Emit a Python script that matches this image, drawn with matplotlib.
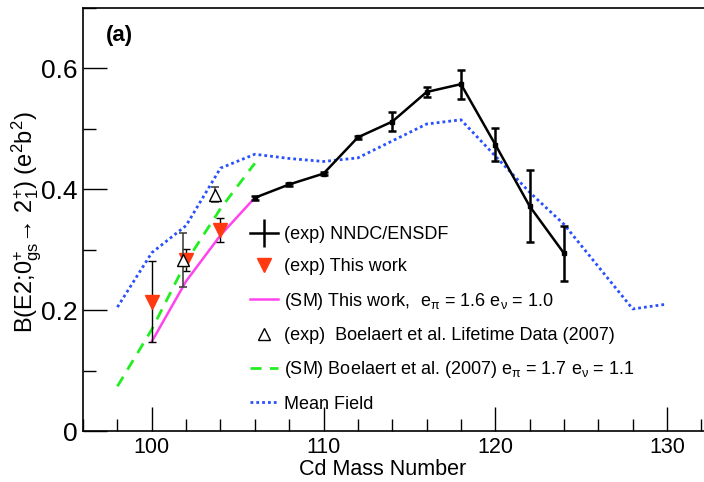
import matplotlib
matplotlib.use('Agg')
import matplotlib.pyplot as plt
from matplotlib.lines import Line2D
from matplotlib.ticker import MultipleLocator

plt.rcParams['font.family'] = ['Liberation Sans', 'DejaVu Sans']
plt.rcParams['mathtext.fontset'] = 'custom'
plt.rcParams['mathtext.rm'] = 'Liberation Sans'
plt.rcParams['mathtext.it'] = 'Liberation Sans:italic'
plt.rcParams['mathtext.bf'] = 'Liberation Sans:bold'

# NNDC/ENSDF adopted values
nndc_A = [106, 108, 110, 112, 114, 116, 118, 120, 122, 124]
nndc_B = [0.386, 0.408, 0.426, 0.486, 0.512, 0.561, 0.574, 0.474, 0.372, 0.294]
nndc_err = [0.003, 0.003, 0.003, 0.003, 0.016, 0.009, 0.024, 0.027, 0.060, 0.045]

# this work (exp)
tw_A = [100, 102, 104]
tw_B = [0.214, 0.283, 0.333]
tw_err = [0.067, 0.019, 0.020]

# Boelaert et al. lifetime data
bo_A = [101.8, 103.7]
bo_B = [0.283, 0.391]
bo_err = [0.044, 0.012]

# shell model, this work
sm_A = [100, 102, 104, 106]
sm_B = [0.148, 0.248, 0.324, 0.386]

# shell model, Boelaert et al.
smb_A = [98, 100, 102, 104, 106]
smb_B = [0.074, 0.168, 0.280, 0.368, 0.443]

# mean field
mf_A = [98, 100, 102, 104, 106, 108, 110, 112, 114, 116, 118, 120, 122, 124, 128, 130]
mf_B = [0.205, 0.295, 0.340, 0.435, 0.458, 0.451, 0.446, 0.452, 0.480, 0.508,
        0.515, 0.455, 0.395, 0.342, 0.202, 0.210]

fig = plt.figure(figsize=(7.04, 4.82), dpi=100)
ax = fig.add_axes([0.118, 0.1058, 0.882, 0.8776])

ax.plot(mf_A, mf_B, color='#2850ff', lw=2, linestyle=(0, (1, 1.1)))
ax.plot(smb_A, smb_B, color='#22ee22', lw=2, linestyle=(0, (4, 3)))
ax.plot(sm_A, sm_B, color='#ff44ee', lw=1.8)
ax.errorbar(nndc_A, nndc_B, yerr=nndc_err, color='black', lw=1.8,
            marker='s', ms=3, capsize=3, capthick=1.8, elinewidth=1.8)
ax.errorbar(tw_A, tw_B, yerr=tw_err, fmt='none', ecolor='black', lw=1,
            capsize=3, capthick=1)
ax.plot(tw_A, tw_B, 'v', color='#ff3a10', ms=10.5, mec='#ff3a10')
ax.errorbar(bo_A, bo_B, yerr=bo_err, fmt='none', ecolor='#444444', lw=1.2,
            capsize=3, capthick=1.2)
ax.plot(bo_A, bo_B, '^', mfc='white', mec='black', ms=9, mew=1)

ax.set_xlim(96, 132.15)
ax.set_ylim(0, 0.7)
ax.xaxis.set_major_locator(MultipleLocator(10))
ax.xaxis.set_minor_locator(MultipleLocator(2))
ax.yaxis.set_minor_locator(MultipleLocator(0.1))
ax.set_yticks([0, 0.2, 0.4, 0.6])
ax.set_yticklabels(['0', '0.2', '0.4', '0.6'])
ax.tick_params(which='both', direction='in', top=False, right=False, width=1)
ax.tick_params(which='major', length=17)
ax.tick_params(which='minor', length=9)
ax.tick_params(axis='y', labelsize=19, pad=4)
ax.tick_params(axis='x', labelsize=15.5, pad=4)
ax.spines['right'].set_visible(False)
for s in ['left', 'bottom', 'top']:
    ax.spines[s].set_linewidth(1.2)

ax.set_xlabel('Cd Mass Number', fontsize=15.5)
ax.xaxis.set_label_coords(0.483, -0.066)
ax.set_ylabel(r'B(E2;0$^{+}_{\mathrm{gs}}$→ 2$^{+}_{1}$) (e$^{2}$b$^{2}$)', fontsize=17)
ax.yaxis.set_label_coords(-0.063, 0.494)

ax.text(0.036, 0.96, '(a)', transform=ax.transAxes, fontsize=16, fontweight='bold', va='top')

handles = [
    Line2D([], [], color='black', lw=1.8, marker='|', ms=20, mew=1.8),
    Line2D([], [], color='#ff3a10', lw=0, marker='v', ms=10.5),
    Line2D([], [], color='#ff44ee', lw=1.8),
    Line2D([], [], color='black', lw=0, marker='^', mfc='white', ms=9, mew=1),
    Line2D([], [], color='#22ee22', lw=2, linestyle=(0, (4, 3))),
    Line2D([], [], color='#2850ff', lw=2, linestyle=(0, (1, 1.1))),
]
labels = [
    '(exp) NNDC/ENSDF',
    '(exp) This work',
    r'(SM) This work,  e$_{\mathrm{π}}$ = 1.6 e$_{\mathrm{ν}}$ = 1.0',
    '(exp)  Boelaert et al. Lifetime Data (2007)',
    r'(SM) Boelaert et al. (2007) e$_{\mathrm{π}}$ = 1.7 e$_{\mathrm{ν}}$ = 1.1',
    'Mean Field',
]
ax.legend(handles, labels, loc='upper left', bbox_to_anchor=(0.269, 0.485),
          frameon=False, fontsize=13, labelspacing=0.85, handlelength=1.55,
          handletextpad=0.35, borderpad=0, borderaxespad=0)

fig.savefig('out.png', dpi=100)
